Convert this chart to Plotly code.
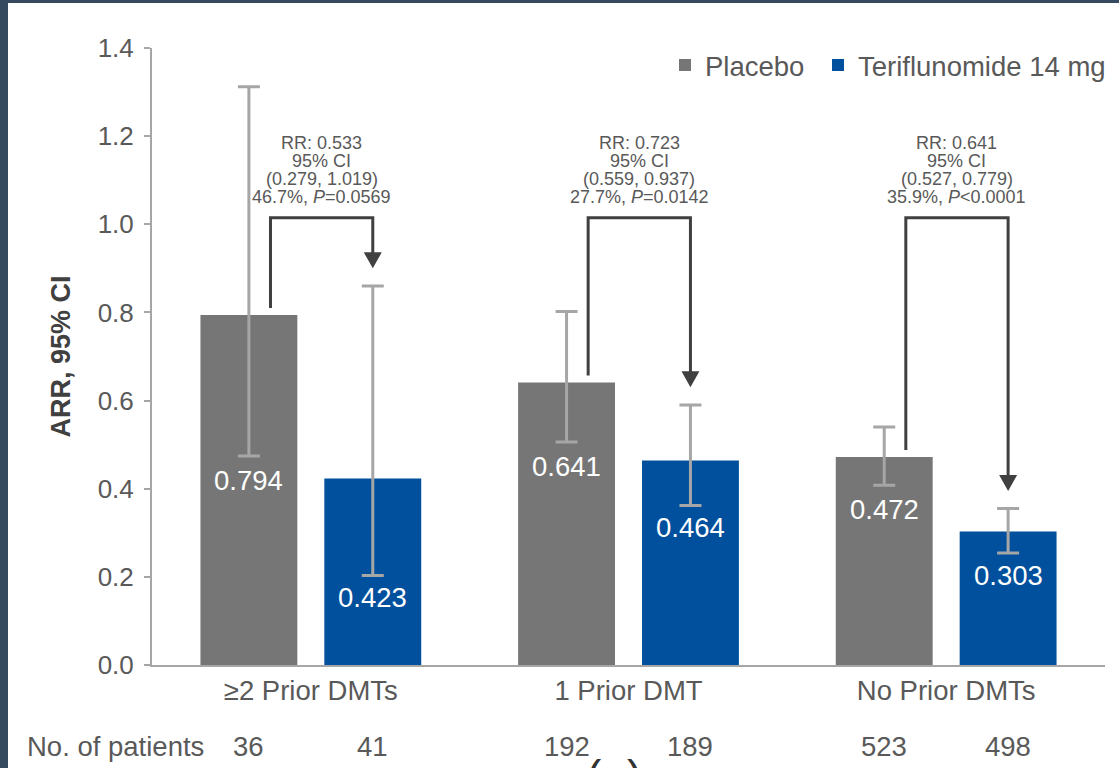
import plotly.graph_objects as go

# Subgroups by number of prior disease-modifying therapies
categories = ["≥2 Prior DMTs", "1 Prior DMT", "No Prior DMTs"]

placebo_arr = [0.794, 0.641, 0.472]
placebo_lo = [0.474, 0.506, 0.408]
placebo_hi = [1.312, 0.802, 0.540]

teri_arr = [0.423, 0.464, 0.303]
teri_lo = [0.203, 0.362, 0.254]
teri_hi = [0.860, 0.590, 0.355]

placebo_n = [36, 192, 523]
teri_n = [41, 189, 498]

rr_text = ["RR: 0.533", "RR: 0.723", "RR: 0.641"]
ci_text = ["(0.279, 1.019)", "(0.559, 0.937)", "(0.527, 0.779)"]
reduction_text = ["46.7%, <i>P</i>=0.0569", "27.7%, <i>P</i>=0.0142", "35.9%, <i>P</i><0.0001"]

GRAY = "#767676"
BLUE = "#00509d"
CI_GRAY = "#a6a6a6"
TEXT = "#595959"
DARK = "#404040"
FONT = "Liberation Sans, Arial, sans-serif"
BIG = 27.5

# plot-area geometry in pixels (used for converting paper positions)
W, H = 1119, 768
L, R, T, B = 152, 14, 48, 103
PW, PH = W - L - R, H - T - B


def px_x(px):
    return (px - L) / PW


def px_y(py):
    return (H - B - py) / PH


BAR_W = 0.305
P_OFF = -0.195
T_OFF = 0.195

fig = go.Figure()
fig.add_trace(go.Bar(
    name="Placebo", x=categories, y=placebo_arr,
    marker=dict(color=GRAY, line=dict(width=0)),
    width=BAR_W, offset=P_OFF - BAR_W / 2,
    error_y=dict(type="data", symmetric=False,
                 array=[h - v for h, v in zip(placebo_hi, placebo_arr)],
                 arrayminus=[v - l for l, v in zip(placebo_lo, placebo_arr)],
                 color=CI_GRAY, thickness=3, width=11),
    legend="legend",
))
fig.add_trace(go.Bar(
    name="Teriflunomide 14 mg", x=categories, y=teri_arr,
    marker=dict(color=BLUE, line=dict(width=0)),
    width=BAR_W, offset=T_OFF - BAR_W / 2,
    error_y=dict(type="data", symmetric=False,
                 array=[h - v for h, v in zip(teri_hi, teri_arr)],
                 arrayminus=[v - l for l, v in zip(teri_lo, teri_arr)],
                 color=CI_GRAY, thickness=3, width=11),
    legend="legend2",
))

shapes = []
annotations = []

BRACKET_Y = 1.015
for i in range(len(categories)):
    xl = i + P_OFF + 0.068
    xr = i + T_OFF
    tip = teri_hi[i] + 0.04
    # bracket from placebo bar to teriflunomide bar
    shapes.append(dict(type="path", xref="x", yref="y",
                       path=f"M{xl},{placebo_arr[i] + 0.016} L{xl},{BRACKET_Y} L{xr},{BRACKET_Y} L{xr},{tip + 0.025}",
                       line=dict(color=DARK, width=3)))
    # arrowhead
    shapes.append(dict(type="path", xref="x", yref="y",
                       xsizemode="pixel", ysizemode="pixel",
                       xanchor=xr, yanchor=tip,
                       path="M-9,16 L9,16 L0,0 Z",
                       fillcolor=DARK, line=dict(color=DARK, width=0)))

    # rate ratio text block centred over the bracket, one line at a time
    for text, py in zip([rr_text[i], "95% CI", ci_text[i], reduction_text[i]],
                        [143, 161, 179, 197]):
        annotations.append(dict(x=(xl + xr) / 2, y=px_y(py), xref="x", yref="paper",
                                text=text, showarrow=False, yanchor="middle",
                                font=dict(size=18, color=TEXT, family=FONT)))

    # value labels inside the bars
    annotations.append(dict(x=i + P_OFF, y=placebo_lo[i], xref="x", yref="y",
                            text=f"{placebo_arr[i]:.3f}", showarrow=False,
                            yanchor="middle", yshift=-24,
                            font=dict(size=BIG, color="white", family=FONT)))
    annotations.append(dict(x=i + T_OFF, y=teri_lo[i], xref="x", yref="y",
                            text=f"{teri_arr[i]:.3f}", showarrow=False,
                            yanchor="middle", yshift=-22,
                            font=dict(size=BIG, color="white", family=FONT)))

    # patient counts
    annotations.append(dict(x=i + P_OFF, y=px_y(746), xref="x", yref="paper",
                            text=str(placebo_n[i]), showarrow=False, yanchor="middle",
                            font=dict(size=BIG, color=TEXT, family=FONT)))
    annotations.append(dict(x=i + T_OFF, y=px_y(746), xref="x", yref="paper",
                            text=str(teri_n[i]), showarrow=False, yanchor="middle",
                            font=dict(size=BIG, color=TEXT, family=FONT)))

annotations.append(dict(x=px_x(25), y=px_y(746), xref="paper", yref="paper",
                        text="No. of patients", showarrow=False,
                        xanchor="left", yanchor="middle",
                        font=dict(size=BIG, color=TEXT, family=FONT)))

# y-axis title
annotations.append(dict(x=px_x(60), y=0.5, xref="paper", yref="paper",
                        text="<b>ARR, 95% CI</b>", showarrow=False, textangle=-90,
                        xanchor="center", yanchor="middle",
                        font=dict(size=27, color=DARK, family=FONT)))

# panel label, running off the bottom edge of the page
annotations.append(dict(x=px_x(614), y=px_y(749), xref="paper", yref="paper",
                        text="(a)", showarrow=False, xanchor="center", yanchor="top",
                        font=dict(size=46, color="#333333", family=FONT)))

# dark frame along the top and left edges
shapes.append(dict(type="rect", xref="paper", yref="paper",
                   x0=px_x(0), x1=px_x(8), y0=px_y(H), y1=px_y(0),
                   fillcolor="#364a5f", line=dict(width=0), layer="above"))
shapes.append(dict(type="rect", xref="paper", yref="paper",
                   x0=px_x(0), x1=px_x(W), y0=px_y(3), y1=px_y(0),
                   fillcolor="#364a5f", line=dict(width=0), layer="above"))

legend_common = dict(orientation="h", yanchor="middle", y=px_y(65),
                     xanchor="left", font=dict(size=BIG, color=TEXT, family=FONT),
                     bgcolor="rgba(0,0,0,0)")

fig.update_layout(
    width=W, height=H,
    margin=dict(l=L, r=R, t=T, b=B, autoexpand=False),
    paper_bgcolor="white", plot_bgcolor="white",
    barmode="group",
    font=dict(family=FONT, color=TEXT),
    showlegend=True,
    legend=dict(x=px_x(665), **legend_common),
    legend2=dict(x=px_x(818), **legend_common),
    xaxis=dict(range=[-0.5, 2.5], showline=True, linecolor=CI_GRAY, linewidth=2,
               ticks="", showgrid=False, zeroline=False, automargin=False,
               tickfont=dict(size=BIG, color=TEXT, family=FONT)),
    yaxis=dict(range=[0, 1.4], dtick=0.2, tickformat=".1f",
               showline=True, linecolor=CI_GRAY, linewidth=2,
               ticks="outside", ticklen=6, tickcolor=CI_GRAY, tickwidth=2,
               ticklabelstandoff=5, automargin=False,
               showgrid=False, zeroline=False,
               tickfont=dict(size=26, color=TEXT, family=FONT)),
    shapes=shapes,
    annotations=annotations,
)

fig.write_html("out.html")
